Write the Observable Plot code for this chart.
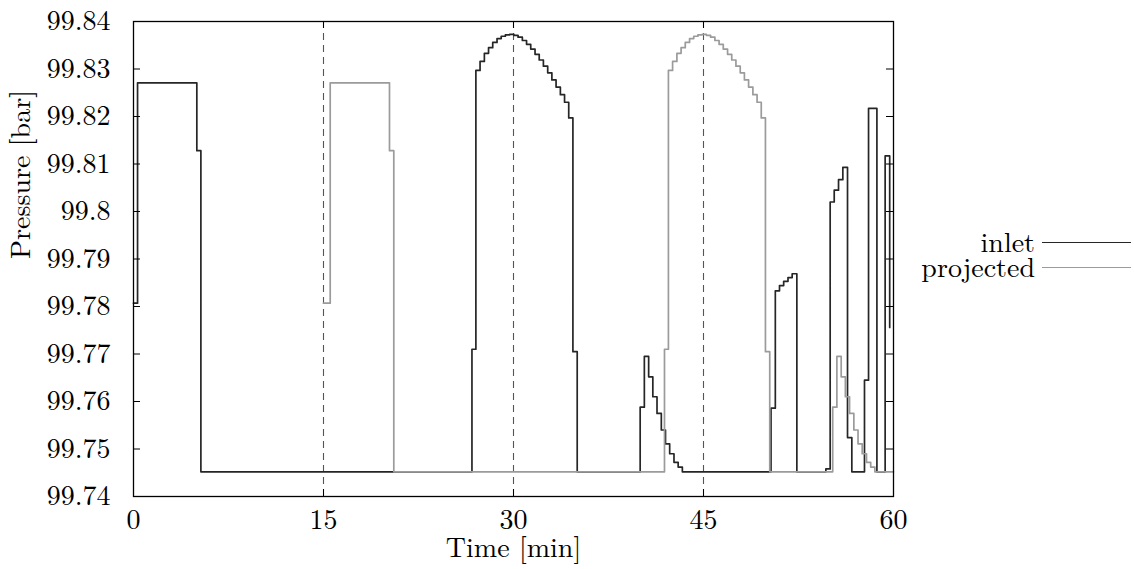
<!DOCTYPE html>
<html><head><meta charset="utf-8">
<script src="https://cdn.jsdelivr.net/npm/d3@7"></script>
<script src="https://cdn.jsdelivr.net/npm/@observablehq/plot@0.6"></script>
<style>
body{margin:0;background:#fff;}
#wrap{position:relative;width:1134px;height:569px;}
.lt{position:absolute;font-family:'Latin Modern Roman';font-size:28px;line-height:22px;text-align:right;width:200px;color:#000;}
.ll{position:absolute;height:0;width:89px;}
</style></head><body><div id="wrap"></div>
<script>
// Inlet pressure (step series): time [min] and pressure [bar]
const inletT = [0, 0.32, 5.00, 5.32, 26.72, 27.03, 27.36, 27.70, 28.03, 28.36, 28.70, 29.03, 29.36, 29.70, 30.03, 30.36, 30.70, 31.03, 31.36, 31.70, 32.03, 32.36, 32.70, 33.03, 33.36, 33.70, 34.03, 34.36, 34.69, 35.03,
  40.00, 40.33, 40.67, 41.00, 41.33, 41.67, 42.00, 42.33, 42.67, 43.00, 43.33,
  50.33, 50.67, 51.00, 51.33, 51.67, 52.00, 52.37, 54.66, 55.00, 55.32, 55.66, 56.00, 56.37, 56.71, 57.71, 58.03, 58.69, 59.34, 59.70];
const inletP = [99.7807, 99.8271, 99.8128, 99.7452, 99.7710, 99.8297, 99.8316, 99.8333, 99.8345, 99.8356, 99.8364, 99.8369, 99.8372, 99.8373, 99.8371, 99.8367, 99.8360, 99.8352, 99.8342, 99.8331, 99.8319, 99.8306, 99.8292, 99.8277, 99.8262, 99.8246, 99.8230, 99.8197, 99.7705, 99.7452,
  99.7588, 99.7695, 99.7652, 99.7610, 99.7575, 99.7540, 99.7511, 99.7490, 99.7472, 99.7462, 99.7452,
  99.7586, 99.7833, 99.7844, 99.7853, 99.7861, 99.7869, 99.7452, 99.7458, 99.8020, 99.8045, 99.8067, 99.8093, 99.7524, 99.7452, 99.7645, 99.8217, 99.7452, 99.8117, 99.7756];

// Projected pressure (step series)
const projT = [15.00, 15.53, 20.21, 20.55, 41.92, 42.23, 42.56, 42.90, 43.23, 43.56, 43.90, 44.23, 44.56, 44.90, 45.23, 45.56, 45.90, 46.23, 46.56, 46.90, 47.23, 47.56, 47.90, 48.23, 48.56, 48.90, 49.23, 49.56, 49.89, 50.23,
  55.20, 55.53, 55.87, 56.20, 56.53, 56.87, 57.20, 57.53, 57.87, 58.20, 58.53, 60.00];
const projP = [99.7807, 99.8271, 99.8128, 99.7452, 99.7710, 99.8297, 99.8316, 99.8333, 99.8345, 99.8356, 99.8364, 99.8369, 99.8372, 99.8373, 99.8371, 99.8367, 99.8360, 99.8352, 99.8342, 99.8331, 99.8319, 99.8306, 99.8292, 99.8277, 99.8262, 99.8246, 99.8230, 99.8197, 99.7705, 99.7452,
  99.7588, 99.7695, 99.7652, 99.7610, 99.7575, 99.7540, 99.7511, 99.7490, 99.7472, 99.7462, 99.7452, 99.7452];

const xTicks = [0, 15, 30, 45, 60];
const yTicks = [99.74, 99.75, 99.76, 99.77, 99.78, 99.79, 99.80, 99.81, 99.82, 99.83, 99.84];
const dashedX = [15, 30, 45];
const seriesNames = ["inlet", "projected"];
const seriesColors = ["#262626", "#9b9b9b"];

const inlet = inletT.map((t, i) => ({t, p: inletP[i]}));
const projected = projT.map((t, i) => ({t, p: projP[i]}));
const fmt = d => String(+d.toFixed(2));

const W = 1134, H = 569, mL = 133, mR = 241, mT = 21, mB = 73;
const fw = W - mL - mR, fh = H - mT - mB, tk = 7;
const font = "Latin Modern Roman";
const fs = 28;

const chart = Plot.plot({
  width: W, height: H,
  marginLeft: mL, marginRight: mR, marginTop: mT, marginBottom: mB,
  style: {fontFamily: font, fontSize: fs + "px", background: "white", color: "black", overflow: "visible"},
  x: {domain: [0, 60]},
  y: {domain: [99.74, 99.84]},
  marks: [
    Plot.ruleX(dashedX, {stroke: "#555", strokeWidth: 1.1, strokeDasharray: "7,5"}),
    Plot.line(inlet, {x: "t", y: "p", curve: "step-after", stroke: seriesColors[0], strokeWidth: 1.7}),
    Plot.line(projected, {x: "t", y: "p", curve: "step-after", stroke: seriesColors[1], strokeWidth: 1.7}),
    // inward ticks on all four sides
    Plot.tickY(yTicks, {y: d => d, insetRight: fw - tk, stroke: "#000", strokeWidth: 1}),
    Plot.tickY(yTicks, {y: d => d, insetLeft: fw - tk, stroke: "#000", strokeWidth: 1}),
    Plot.tickX(xTicks, {x: d => d, insetTop: fh - tk, stroke: "#000", strokeWidth: 1}),
    Plot.tickX(xTicks, {x: d => d, insetBottom: fh - tk, stroke: "#000", strokeWidth: 1}),
    Plot.frame({stroke: "#000", strokeWidth: 1.3}),
    Plot.axisX(xTicks, {anchor: "bottom", tickSize: 0, tickPadding: 13, label: null, tickFormat: fmt, fontFamily: font, fontSize: fs}),
    Plot.axisY(yTicks, {anchor: "left", tickSize: 0, tickPadding: 23, label: null, tickFormat: fmt, fontFamily: font, fontSize: fs}),
    Plot.text(["Time [min]"], {frameAnchor: "bottom", dy: 60, fontSize: fs, fontFamily: font}),
    Plot.text(["Pressure [bar]"], {frameAnchor: "left", dx: -112, rotate: -90, fontSize: fs, fontFamily: font})
  ]
});
const wrap = document.getElementById("wrap");
wrap.appendChild(chart);

// legend
const legTops = [229, 254];
seriesNames.forEach((n, i) => {
  const t = document.createElement("div");
  t.className = "lt"; t.textContent = n;
  t.style.left = (1035 - 200) + "px"; t.style.top = legTops[i] + "px";
  wrap.appendChild(t);
  const l = document.createElement("div");
  l.className = "ll";
  l.style.left = "1042px"; l.style.top = (legTops[i] + 13) + "px";
  l.style.borderTop = "1.7px solid " + seriesColors[i];
  wrap.appendChild(l);
});
</script></body></html>
